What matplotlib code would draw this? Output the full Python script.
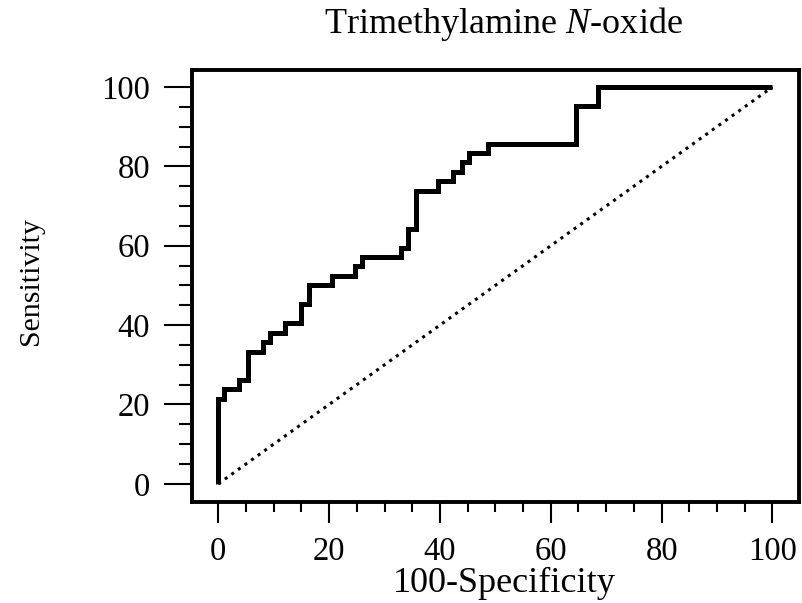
import matplotlib

matplotlib.use("Agg")
import matplotlib.pyplot as plt
from matplotlib.ticker import MultipleLocator

# ROC curve corners (100-specificity, sensitivity)
fpr = [0, 0, 1.1, 3.8, 5.3, 8.0, 9.4, 12.1, 15.0, 16.3, 20.5, 24.7, 26.0,
       32.9, 34.2, 35.6, 39.7, 42.4, 43.9, 45.3, 48.7, 64.5, 68.6, 100]
tpr = [0, 21.4, 23.8, 26.2, 33.3, 35.7, 38.1, 40.5, 45.2, 50.0, 52.4, 54.8, 57.1,
       59.5, 64.3, 73.8, 76.2, 78.6, 81.0, 83.3, 85.7, 95.2, 100, 100]
ref_x = [0, 100]
ref_y = [0, 100]
ticks = [0, 20, 40, 60, 80, 100]

title = "Trimethylamine $N$-oxide"
xlabel = "100-Specificity"
ylabel = "Sensitivity"

plt.rcParams["font.family"] = ["Liberation Serif", "DejaVu Serif"]
plt.rcParams["mathtext.fontset"] = "custom"
plt.rcParams["mathtext.rm"] = "Liberation Serif"
plt.rcParams["mathtext.it"] = "Liberation Serif:italic"

fig = plt.figure(figsize=(8.03, 6.03), dpi=100)
ax = fig.add_axes([0.2387, 0.168, 0.7563, 0.716])

ax.step(fpr, tpr, where="post", color="black", lw=3.6,
        solid_joinstyle="miter", solid_capstyle="butt")
ax.plot(ref_x, ref_y, color="black", lw=2.2, linestyle=":")

ax.set_xlim(-4.8, 104.8)
ax.set_ylim(-4.5, 104.3)
ax.set_xticks(ticks)
ax.set_yticks(ticks)
ax.xaxis.set_minor_locator(MultipleLocator(5))
ax.yaxis.set_minor_locator(MultipleLocator(5))

for s in ax.spines.values():
    s.set_linewidth(2.8)

ax.tick_params(axis="both", which="both", direction="out", width=1.5,
               labelsize=23.5, colors="black")
ax.tick_params(axis="x", which="major", length=15, pad=10)
ax.tick_params(axis="x", which="minor", length=7.2)
ax.tick_params(axis="y", which="major", length=20, pad=10)
ax.tick_params(axis="y", which="minor", length=9.6)

ax.set_xlabel(xlabel, fontsize=26, va="center")
ax.xaxis.set_label_coords(0.514, -0.19)
ax.set_ylabel(ylabel, fontsize=21.5, va="center")
ax.yaxis.set_label_coords(-0.265, 0.512)

fig.text(503 / 803, 1 - 33 / 603, title, fontsize=26, ha="center", va="baseline")

fig.savefig("out.png", dpi=100)
